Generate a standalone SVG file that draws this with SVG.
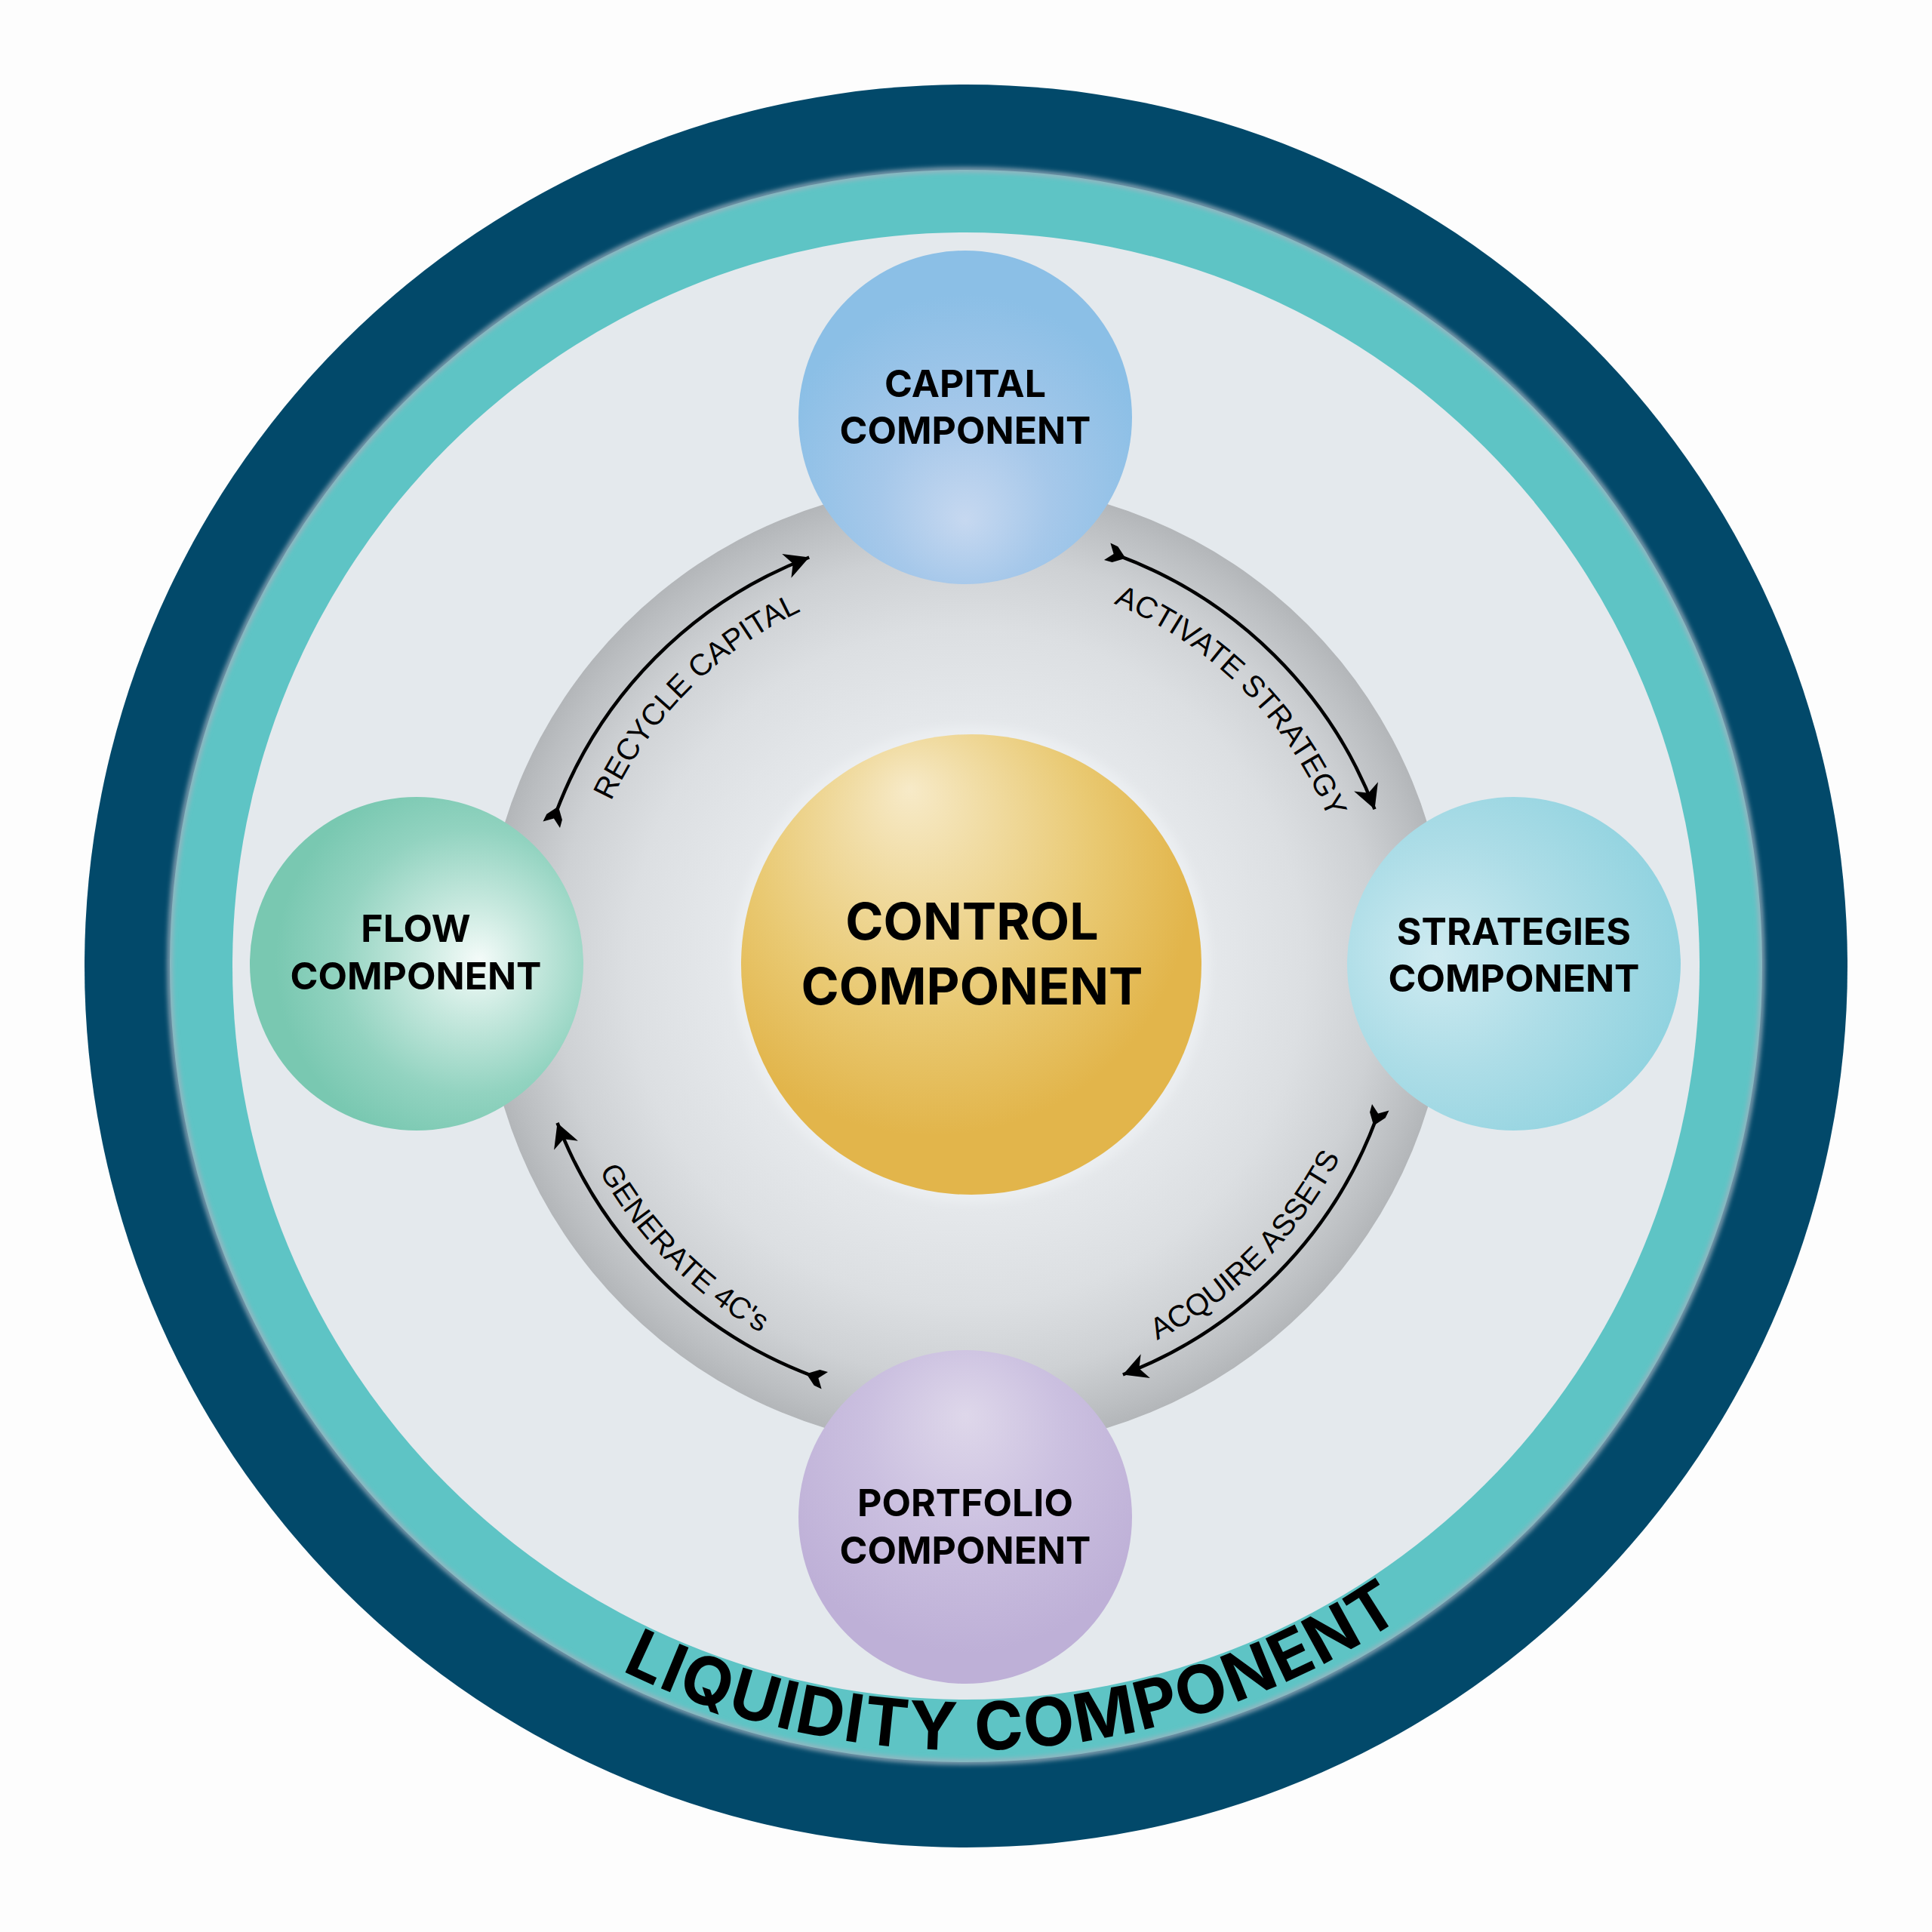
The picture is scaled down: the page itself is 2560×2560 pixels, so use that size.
<svg xmlns="http://www.w3.org/2000/svg" xmlns:xlink="http://www.w3.org/1999/xlink" width="2560" height="2560" viewBox="0 0 2560 2560">
  <style>
    .node-label { font-family: Inter, "Liberation Sans", "DejaVu Sans", sans-serif; font-weight: 700; fill: #000000; text-anchor: middle; }
    .arc-label { font-family: "Liberation Sans", Arial, sans-serif; font-size: 40px; fill: #000000; }
    .connector { fill: none; stroke: #000000; stroke-width: 4.5; marker-start: url(#tail); marker-end: url(#head); }
    .liquidity { font-family: Inter, "Liberation Sans", sans-serif; font-weight: 700; font-size: 88px; letter-spacing: 2px; fill: #000000; }
  </style>
  <defs>
    <marker id="head" markerUnits="userSpaceOnUse" viewBox="-34 -18 36 36" refX="0" refY="0" markerWidth="36" markerHeight="36" orient="auto" overflow="visible">
      <path d="M0,0 L-32,-17 L-23,0 L-32,17 Z" fill="#000000"/>
    </marker>
    <marker id="tail" markerUnits="userSpaceOnUse" viewBox="-20 -13 30 26" refX="0" refY="0" markerWidth="30" markerHeight="26" orient="auto" overflow="visible">
      <path d="M9,0 L-6,-11 L-17,-12 L-8,0 L-17,12 L-6,11 Z" fill="#000000"/>
    </marker>
    <radialGradient id="gGray" gradientUnits="userSpaceOnUse" cx="1280" cy="1280" r="640">
      <stop offset="0" stop-color="#E8ECEF"/>
      <stop offset="0.5" stop-color="#E5E8EB"/>
      <stop offset="0.7" stop-color="#DCDFE2"/>
      <stop offset="0.85" stop-color="#CED1D4"/>
      <stop offset="0.96" stop-color="#BBBEC1"/>
      <stop offset="1" stop-color="#B3B6B9"/>
    </radialGradient>
    <radialGradient id="gControl" gradientUnits="userSpaceOnUse" cx="1235" cy="1160" r="345" fx="1205" fy="1045">
      <stop offset="0" stop-color="#F7EAC8"/>
      <stop offset="0.25" stop-color="#F1DDA6"/>
      <stop offset="0.65" stop-color="#E9C972"/>
      <stop offset="1" stop-color="#E2B54B"/>
    </radialGradient>
    <radialGradient id="gCapital" gradientUnits="userSpaceOnUse" cx="1279" cy="640" r="250" fx="1279" fy="690">
      <stop offset="0" stop-color="#C6D8F0"/>
      <stop offset="0.45" stop-color="#A6C8EA"/>
      <stop offset="1" stop-color="#8BBFE6"/>
    </radialGradient>
    <radialGradient id="gFlow" gradientUnits="userSpaceOnUse" cx="615" cy="1275" r="250" fx="635" fy="1272">
      <stop offset="0" stop-color="#F4FBF9"/>
      <stop offset="0.3" stop-color="#C8E9DF"/>
      <stop offset="0.7" stop-color="#92D3C0"/>
      <stop offset="1" stop-color="#79C8B1"/>
    </radialGradient>
    <radialGradient id="gStrat" gradientUnits="userSpaceOnUse" cx="1935" cy="1270" r="300" fx="1903" fy="1267">
      <stop offset="0" stop-color="#CFEBF1"/>
      <stop offset="0.5" stop-color="#ADDDE7"/>
      <stop offset="1" stop-color="#8FD2DF"/>
    </radialGradient>
    <radialGradient id="gPort" gradientUnits="userSpaceOnUse" cx="1279" cy="1925" r="265" fx="1279" fy="1875">
      <stop offset="0" stop-color="#DED7EA"/>
      <stop offset="0.5" stop-color="#CBC0E0"/>
      <stop offset="1" stop-color="#BEB0D7"/>
    </radialGradient>
    <filter id="blur3" x="-10%" y="-10%" width="120%" height="120%">
      <feGaussianBlur stdDeviation="3"/>
    </filter>
    <filter id="blur6" x="-10%" y="-10%" width="120%" height="120%">
      <feGaussianBlur stdDeviation="6"/>
    </filter>
    <path id="pRecycle" d="M909.5 1650.5 A524 524 0 0 1 1650.5 909.5"/>
    <path id="pActivate" d="M909.5 909.5 A524 524 0 0 1 1650.5 1650.5"/>
    <path id="pAcquire" d="M886.1 1673.9 A557 557 0 0 0 1673.9 886.1"/>
    <path id="pGenerate" d="M886.1 886.1 A557 557 0 0 0 1673.9 1673.9"/>
    <path id="pLiquidity" d="M241 1280 A1039 1039 0 0 0 2319 1280"/>
  </defs>

  <rect x="0" y="0" width="2560" height="2560" fill="#FDFDFD"/>

  <g id="liquidity-component">
    <circle cx="1280" cy="1280" r="1168" fill="#02496A"/>
    <circle cx="1280" cy="1280" r="1055" fill="#5EC4C5"/>
    <circle cx="1280" cy="1280" r="1055" fill="none" stroke="#9FB2BF" stroke-width="6" filter="url(#blur3)"/>
    <circle cx="1280" cy="1280" r="972" fill="#E4E9ED"/>
    <text class="liquidity"><textPath xlink:href="#pLiquidity" href="#pLiquidity" startOffset="52.2%" text-anchor="middle">LIQUIDITY COMPONENT</textPath></text>
  </g>

  <g id="cycle-ring">
    <circle cx="1280" cy="1280" r="640" fill="url(#gGray)"/>
  </g>

  <g id="node-control">
    <circle cx="1287" cy="1278" r="316" fill="#EBEEF1" filter="url(#blur6)"/>
    <circle cx="1287" cy="1278" r="305" fill="url(#gControl)"/>
    <text class="node-label" x="1288" y="1245" font-size="68">CONTROL</text>
    <text class="node-label" x="1288" y="1331" font-size="68">COMPONENT</text>
  </g>

  <g id="node-capital">
    <circle cx="1279" cy="553" r="221" fill="url(#gCapital)"/>
    <text class="node-label" x="1279" y="526" font-size="50">CAPITAL</text>
    <text class="node-label" x="1279" y="588" font-size="50">COMPONENT</text>
  </g>

  <g id="node-flow">
    <circle cx="552" cy="1277" r="221" fill="url(#gFlow)"/>
    <text class="node-label" x="551" y="1248" font-size="50">FLOW</text>
    <text class="node-label" x="551" y="1311" font-size="50">COMPONENT</text>
  </g>

  <g id="node-strategies">
    <circle cx="2006" cy="1277" r="221" fill="url(#gStrat)"/>
    <text class="node-label" x="2006" y="1252" font-size="50">STRATEGIES</text>
    <text class="node-label" x="2006" y="1314" font-size="50">COMPONENT</text>
  </g>

  <g id="node-portfolio">
    <circle cx="1279" cy="2010" r="221" fill="url(#gPort)"/>
    <text class="node-label" x="1279" y="2009" font-size="50">PORTFOLIO</text>
    <text class="node-label" x="1279" y="2072" font-size="50">COMPONENT</text>
  </g>

  <g id="connectors">
    <path class="connector" d="M736.7 1076.9 A580 580 0 0 1 1072.2 738.5"/>
    <path class="connector" d="M1483.1 736.7 A580 580 0 0 1 1821.5 1072.2"/>
    <path class="connector" d="M1823.3 1483.1 A580 580 0 0 1 1487.9 1821.5"/>
    <path class="connector" d="M1076.9 1823.3 A580 580 0 0 1 738.5 1487.9"/>
    <text class="arc-label"><textPath xlink:href="#pRecycle" href="#pRecycle" startOffset="50%" text-anchor="middle">RECYCLE CAPITAL</textPath></text>
    <text class="arc-label"><textPath xlink:href="#pActivate" href="#pActivate" startOffset="50%" text-anchor="middle">ACTIVATE STRATEGY</textPath></text>
    <text class="arc-label"><textPath xlink:href="#pAcquire" href="#pAcquire" startOffset="50%" text-anchor="middle">ACQUIRE ASSETS</textPath></text>
    <text class="arc-label"><textPath xlink:href="#pGenerate" href="#pGenerate" startOffset="50%" text-anchor="middle">GENERATE 4C's</textPath></text>
  </g>
</svg>
